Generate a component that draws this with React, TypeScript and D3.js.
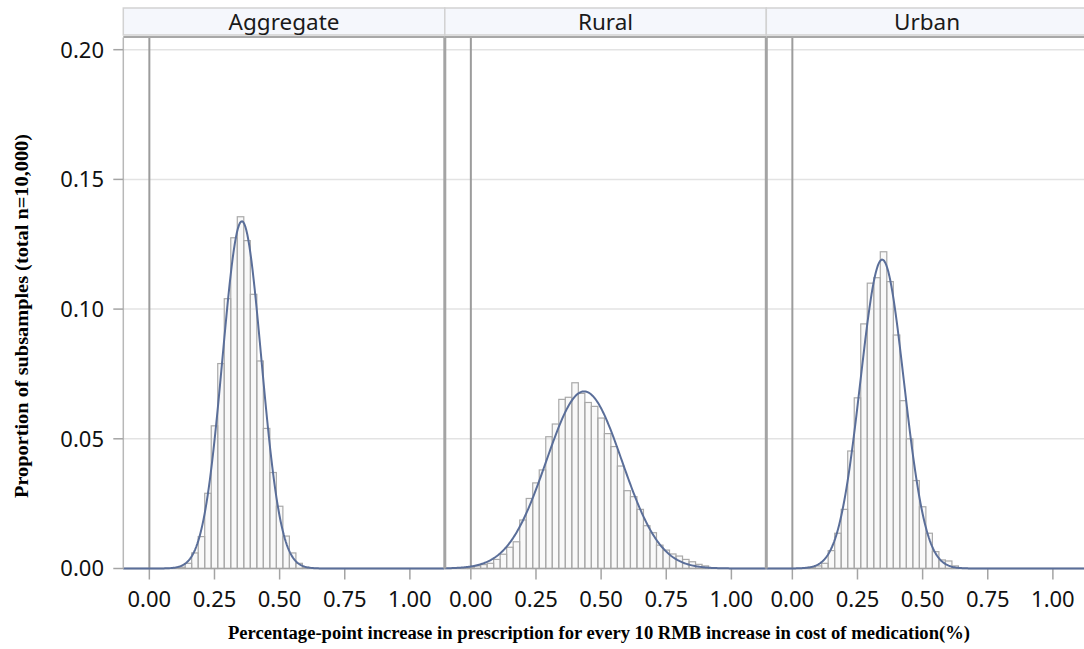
import React from 'react';
import * as d3 from 'd3';

// histogram bins are 0.025 wide, values are proportion of subsamples per bin
const binWidth = 0.025;
const panelNames = ['Aggregate', 'Rural', 'Urban'];

const aggregateStart = 0.125;
const aggregateProps = [
  0.0005, 0.002, 0.006, 0.0123, 0.029, 0.055, 0.079, 0.104, 0.1275, 0.1356,
  0.1264, 0.1057, 0.080, 0.054, 0.037, 0.024, 0.0125, 0.006, 0.002, 0.0005,
];

const ruralStart = -0.025;
const ruralProps = [
  0.0003, 0.0005, 0.001, 0.0015, 0.002, 0.0035, 0.0055, 0.0082, 0.0103, 0.0187,
  0.027, 0.033, 0.038, 0.0508, 0.0557, 0.0652, 0.066, 0.0716, 0.0675, 0.064,
  0.0625, 0.058, 0.052, 0.047, 0.0395, 0.030, 0.0277, 0.0228, 0.0165, 0.0138,
  0.009, 0.0071, 0.0056, 0.0048, 0.0035, 0.0026, 0.0016, 0.001,
];

const urbanStart = 0.075;
const urbanProps = [
  0.0005, 0.001, 0.002, 0.0069, 0.0136, 0.0228, 0.0453, 0.0658, 0.0943, 0.110,
  0.1121, 0.1221, 0.1106, 0.090, 0.0647, 0.050, 0.0339, 0.0238, 0.0136, 0.0065,
  0.0033, 0.0029, 0.001,
];

const xTicks = [0, 0.25, 0.5, 0.75, 1.0];
const yTicks = [0, 0.05, 0.1, 0.15, 0.2];

const W = 1084;
const H = 649;
const plotTop = 37.5;
const plotBottom = 568.5;
const firstLeft = 123.3;
const panelStep = 321.5;

const series = [
  { start: aggregateStart, values: aggregateProps },
  { start: ruralStart, values: ruralProps },
  { start: urbanStart, values: urbanProps },
];

// normal fit from the binned data (mean / sd of the histogram)
function fitNormal(start: number, values: number[]) {
  const total = d3.sum(values);
  const mids = values.map((_, i) => start + i * binWidth);
  const mean = d3.sum(values, (v, i) => v * mids[i]) / total;
  const variance = d3.sum(values, (v, i) => v * (mids[i] - mean) ** 2) / total;
  return { mean, sd: Math.sqrt(variance), total };
}

export default function App() {
  const y = d3.scaleLinear().domain([0, 0.2047]).range([plotBottom, plotTop]);
  const gridColor = '#e3e3e3';
  const frameColor = '#a4a4a4';
  const fontSans = '"Noto Sans", "Open Sans", sans-serif';
  const fontSerif = '"Liberation Serif", "Times New Roman", serif';

  return (
    <svg
      width={W}
      height={H}
      style={{ position: 'absolute', left: 0, top: 0, background: '#fff' }}
    >
      {series.map((s, pi) => {
        const x0 = firstLeft + pi * panelStep;
        const x = d3.scaleLinear().domain([-0.1, 1.134]).range([x0, x0 + panelStep]);
        const fit = fitNormal(s.start, s.values);
        const pts = d3.range(-0.1, 1.135, 0.004).map((v) => {
          const z = (v - fit.mean) / fit.sd;
          const dens = Math.exp(-0.5 * z * z) / (fit.sd * Math.sqrt(2 * Math.PI));
          return [v, dens * binWidth * fit.total] as [number, number];
        });
        const line = d3
          .line<[number, number]>()
          .x((d) => x(d[0]))
          .y((d) => y(d[1]));

        return (
          <g key={pi}>
            {/* strip header */}
            <rect
              x={x0}
              y={8}
              width={panelStep}
              height={27}
              fill="#f5f7fc"
              stroke="#d2d2d2"
              strokeWidth={1.5}
            />
            <text
              x={x0 + panelStep / 2}
              y={29.5}
              textAnchor="middle"
              fontFamily={fontSans}
              fontSize={22.5}
              fill="#1a1a1a"
            >
              {panelNames[pi]}
            </text>

            {/* grid */}
            {yTicks.slice(1).map((t) => (
              <line
                key={t}
                x1={x0}
                x2={x0 + panelStep}
                y1={y(t)}
                y2={y(t)}
                stroke={gridColor}
                strokeWidth={1.5}
              />
            ))}

            {/* zero reference */}
            <line
              x1={x(0)}
              x2={x(0)}
              y1={plotTop}
              y2={plotBottom}
              stroke="#9c9c9c"
              strokeWidth={2}
            />

            {/* bars */}
            {s.values.map((v, i) => {
              const c = s.start + i * binWidth;
              return (
                <rect
                  key={i}
                  x={x(c - binWidth / 2)}
                  y={y(v)}
                  width={x(c + binWidth / 2) - x(c - binWidth / 2)}
                  height={plotBottom - y(v)}
                  fill="rgba(230,230,230,0.25)"
                  stroke="#a9a9a9"
                  strokeWidth={1.2}
                />
              );
            })}

            {/* x ticks */}
            {xTicks.map((t) => (
              <g key={t}>
                <line
                  x1={x(t)}
                  x2={x(t)}
                  y1={plotBottom}
                  y2={plotBottom + 11}
                  stroke={frameColor}
                  strokeWidth={1.5}
                />
                <text
                  x={x(t)}
                  y={606.5}
                  textAnchor="middle"
                  fontFamily={fontSans}
                  fontSize={22}
                  fill="#111"
                >
                  {t.toFixed(2)}
                </text>
              </g>
            ))}

            {/* baseline */}
            <line
              x1={x0}
              x2={x0 + panelStep}
              y1={plotBottom}
              y2={plotBottom}
              stroke={frameColor}
              strokeWidth={1.5}
            />

            {/* fitted normal */}
            <path d={line(pts) || ''} fill="none" stroke="#5a6e99" strokeWidth={2} />

            {/* frame */}
            <line
              x1={x0}
              x2={x0 + panelStep}
              y1={plotTop - 0.5}
              y2={plotTop - 0.5}
              stroke="#a8a8a8"
              strokeWidth={2}
            />
            <line
              x1={x0}
              x2={x0}
              y1={plotTop}
              y2={plotBottom}
              stroke={pi === 0 ? '#b8b8b8' : frameColor}
              strokeWidth={pi === 0 ? 1.5 : 3}
            />
          </g>
        );
      })}

      {/* y axis */}
      {yTicks.map((t) => (
        <g key={t}>
          <line
            x1={firstLeft - 10}
            x2={firstLeft}
            y1={y(t)}
            y2={y(t)}
            stroke={frameColor}
            strokeWidth={1.5}
          />
          <text
            x={104}
            y={y(t)}
            dy="0.36em"
            textAnchor="end"
            fontFamily={fontSans}
            fontSize={22}
            fill="#111"
          >
            {t.toFixed(2)}
          </text>
        </g>
      ))}

      <text
        x={599}
        y={638.5}
        textAnchor="middle"
        fontFamily={fontSerif}
        fontWeight="bold"
        fontSize={18}
        textLength={742}
        lengthAdjust="spacingAndGlyphs"
        fill="#000"
      >
        Percentage-point increase in prescription for every 10 RMB increase in cost of medication(%)
      </text>
      <text
        transform="translate(28,316) rotate(-90)"
        textAnchor="middle"
        fontFamily={fontSerif}
        fontWeight="bold"
        fontSize={18}
        textLength={364}
        lengthAdjust="spacingAndGlyphs"
        fill="#000"
      >
        Proportion of subsamples (total n=10,000)
      </text>
    </svg>
  );
}
